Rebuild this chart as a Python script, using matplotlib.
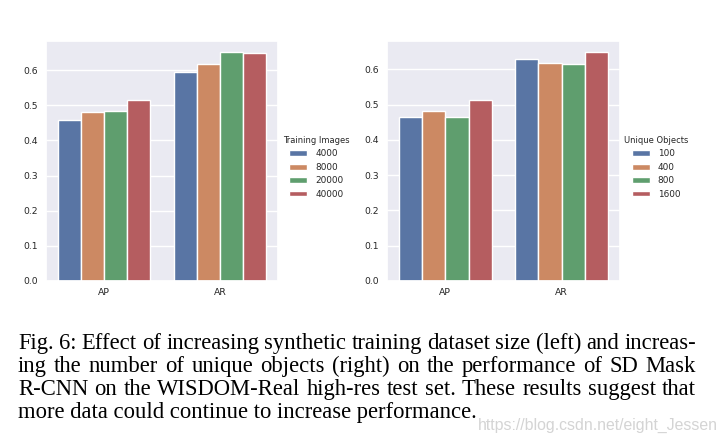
import numpy as np
import matplotlib
matplotlib.use("Agg")
import matplotlib.pyplot as plt
from matplotlib import font_manager
import seaborn as sns

# values
metrics = ["AP", "AR"]
train_sizes = ["4000", "8000", "20000", "40000"]
train_ap = [0.459, 0.482, 0.484, 0.516]
train_ar = [0.593, 0.616, 0.650, 0.647]
obj_counts = ["100", "400", "800", "1600"]
obj_ap = [0.465, 0.481, 0.465, 0.514]
obj_ar = [0.628, 0.619, 0.614, 0.648]

caption_lines = [
    "Fig. 6: Effect of increasing synthetic training dataset size (left) and increas-",
    "ing the number of unique objects (right) on the performance of SD Mask",
    "R-CNN on the WISDOM-Real high-res test set. These results suggest that",
    "more data could continue to increase performance.",
]
watermark = "https://blog.csdn.net/eight_Jessen"

sns.set_theme(style="darkgrid")
plt.rcParams["font.family"] = ["DejaVu Sans"]
colors = [sns.desaturate(c, 0.75) for c in sns.color_palette("deep", 4)]

W, H = 726, 443
fig = plt.figure(figsize=(W / 100, H / 100), dpi=100)
fig.patch.set_facecolor("white")


def px(x, y):
    return x / W, 1 - y / H


def bar_panel(rect, ap, ar, labels, title, leg_xy):
    ax = fig.add_axes(rect)
    x = np.arange(len(metrics))
    width = 0.8 / len(labels)
    for i, lab in enumerate(labels):
        off = -0.4 + width * (i + 0.5)
        ax.bar(x + off, [ap[i], ar[i]], width, color=colors[i],
               edgecolor="white", linewidth=1, label=lab)
    ax.set_xlim(-0.5, len(metrics) - 0.5)
    ax.set_ylim(0, max(ap + ar) * 1.05)
    ax.set_yticks(np.arange(0, 0.61, 0.1))
    ax.set_xticks(x, metrics)
    ax.tick_params(axis="y", labelsize=6.7, pad=5.8, length=0)
    ax.tick_params(axis="x", labelsize=6.7, pad=5.0, length=0)
    ax.grid(axis="x", visible=False)
    ax.legend(title=title, loc="upper left", bbox_to_anchor=px(*leg_xy),
              bbox_transform=fig.transFigure, frameon=False, fontsize=6.4,
              title_fontsize=6.0, handlelength=2.0, handleheight=0.6,
              handletextpad=0.9, borderpad=0, borderaxespad=0,
              labelspacing=0.5)
    return ax


bar_panel([46 / W, 162 / H, 232 / W, 240 / H], train_ap, train_ar,
          train_sizes, "Training Images", (283, 136))
bar_panel([387 / W, 162 / H, 233 / W, 240 / H], obj_ap, obj_ar,
          obj_counts, "Unique Objects", (624, 136))

renderer = fig.canvas.get_renderer()


def width_px(t):
    return t.get_window_extent(renderer).width


# caption, justified like the paper
serif = "Liberation Serif"
left, right = 18, 696
baselines = [349, 372, 395, 418]
probe = fig.text(0, 0, caption_lines[-1], family=serif, fontsize=10)
cap_size = 10 * 459 / width_px(probe)
probe.remove()

for k, line in enumerate(caption_lines):
    y = 1 - baselines[k] / H
    if k == len(caption_lines) - 1:
        fig.text(left / W, y, line, family=serif, fontsize=cap_size,
                 va="baseline", color="black")
        continue
    words = line.split(" ")
    items = [fig.text(0, y, w, family=serif, fontsize=cap_size,
                      va="baseline", color="black") for w in words]
    widths = [width_px(t) for t in items]
    gap = (right - left - sum(widths)) / (len(words) - 1)
    xpos = left
    for t, w in zip(items, widths):
        t.set_x(xpos / W)
        xpos += w + gap

# csdn watermark
try:
    font_manager.findfont("Liberation Sans Narrow", fallback_to_default=False)
    wm_family = "Liberation Sans Narrow"
except Exception:
    wm_family = "Liberation Sans"
probe = fig.text(0, 0, watermark, family=wm_family, fontsize=10)
wm_size = 10 * 239 / width_px(probe)
probe.remove()
fig.text(478 / W, 1 - 430 / H, watermark, family=wm_family, fontsize=wm_size,
         va="baseline", color="#d4d4d4")

fig.savefig("out.png", dpi=100, facecolor="white")
